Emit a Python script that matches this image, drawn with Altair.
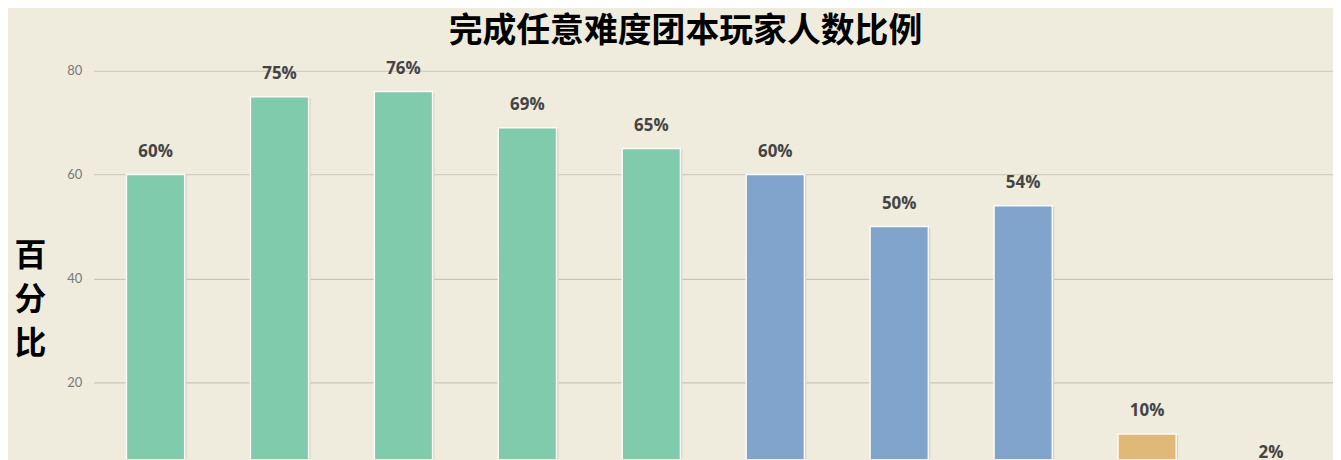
import altair as alt
import pandas as pd

categories = ["1", "2", "3", "4", "5", "6", "7", "8", "9", "10"]
values = [60, 75, 76, 69, 65, 60, 50, 54, 10, 2]
groups = ["A", "A", "A", "A", "A", "B", "B", "B", "C", "C"]
labels = ["60%", "75%", "76%", "69%", "65%", "60%", "50%", "54%", "10%", "2%"]
group_domain = ["A", "B", "C"]
group_colors = ["#80cbab", "#80a4cc", "#e0b878"]
y_ticks = [20, 40, 60, 80]

df = pd.DataFrame({"cat": categories, "val": values, "grp": groups, "lab": labels})

BG = "#efecdd"
CJK = "Noto Sans CJK SC"

x = alt.X("cat:N", sort=categories,
          scale=alt.Scale(paddingInner=0.53, paddingOuter=0.265),
          axis=None)
y = alt.Y("val:Q",
          scale=alt.Scale(domain=[5.2, 80], nice=False, zero=False),
          axis=alt.Axis(values=y_ticks, title=["百", "分", "比"],
                        titleAngle=0, titleFont=CJK, titleFontSize=32,
                        titleFontWeight="bold", titleColor="#000000",
                        titleAlign="center", titleBaseline="middle",
                        titleX=-64, titleY=186, titleLineHeight=44,
                        labelFont="Lato", labelFontSize=13, labelColor="#777777",
                        labelPadding=12, ticks=False, domain=False,
                        gridColor="#c9c6b6", gridWidth=1.2))

shadow = alt.Chart(df).mark_bar(clip=True, color="#d6d3c4", xOffset=2, yOffset=1).encode(
    x=x, y=y,
)

bars = alt.Chart(df).mark_bar(clip=True, stroke="#fbfaf4", strokeWidth=1.5).encode(
    x=x, y=y,
    color=alt.Color("grp:N", scale=alt.Scale(domain=group_domain, range=group_colors), legend=None),
)

text = alt.Chart(df).mark_text(dy=-18, baseline="alphabetic", font="Open Sans",
                               fontSize=17, fontWeight="bold", color="#444444").encode(
    x=x, y=y, text="lab:N"
)

chart = alt.layer(shadow, bars, text).properties(
    width=1245, height=390,
    title=alt.TitleParams("完成任意难度团本玩家人数比例", font=CJK, fontSize=34,
                          fontWeight="bold", color="#000000", anchor="middle",
                          dx=-28, dy=-7),
    background=BG,
    padding={"left": 86, "top": 62, "right": 0, "bottom": 0},
    autosize=alt.AutoSizeParams(type="none"),
).configure_view(stroke=None)

chart.save("out.html", embed_options={"renderer": "svg", "actions": False})
